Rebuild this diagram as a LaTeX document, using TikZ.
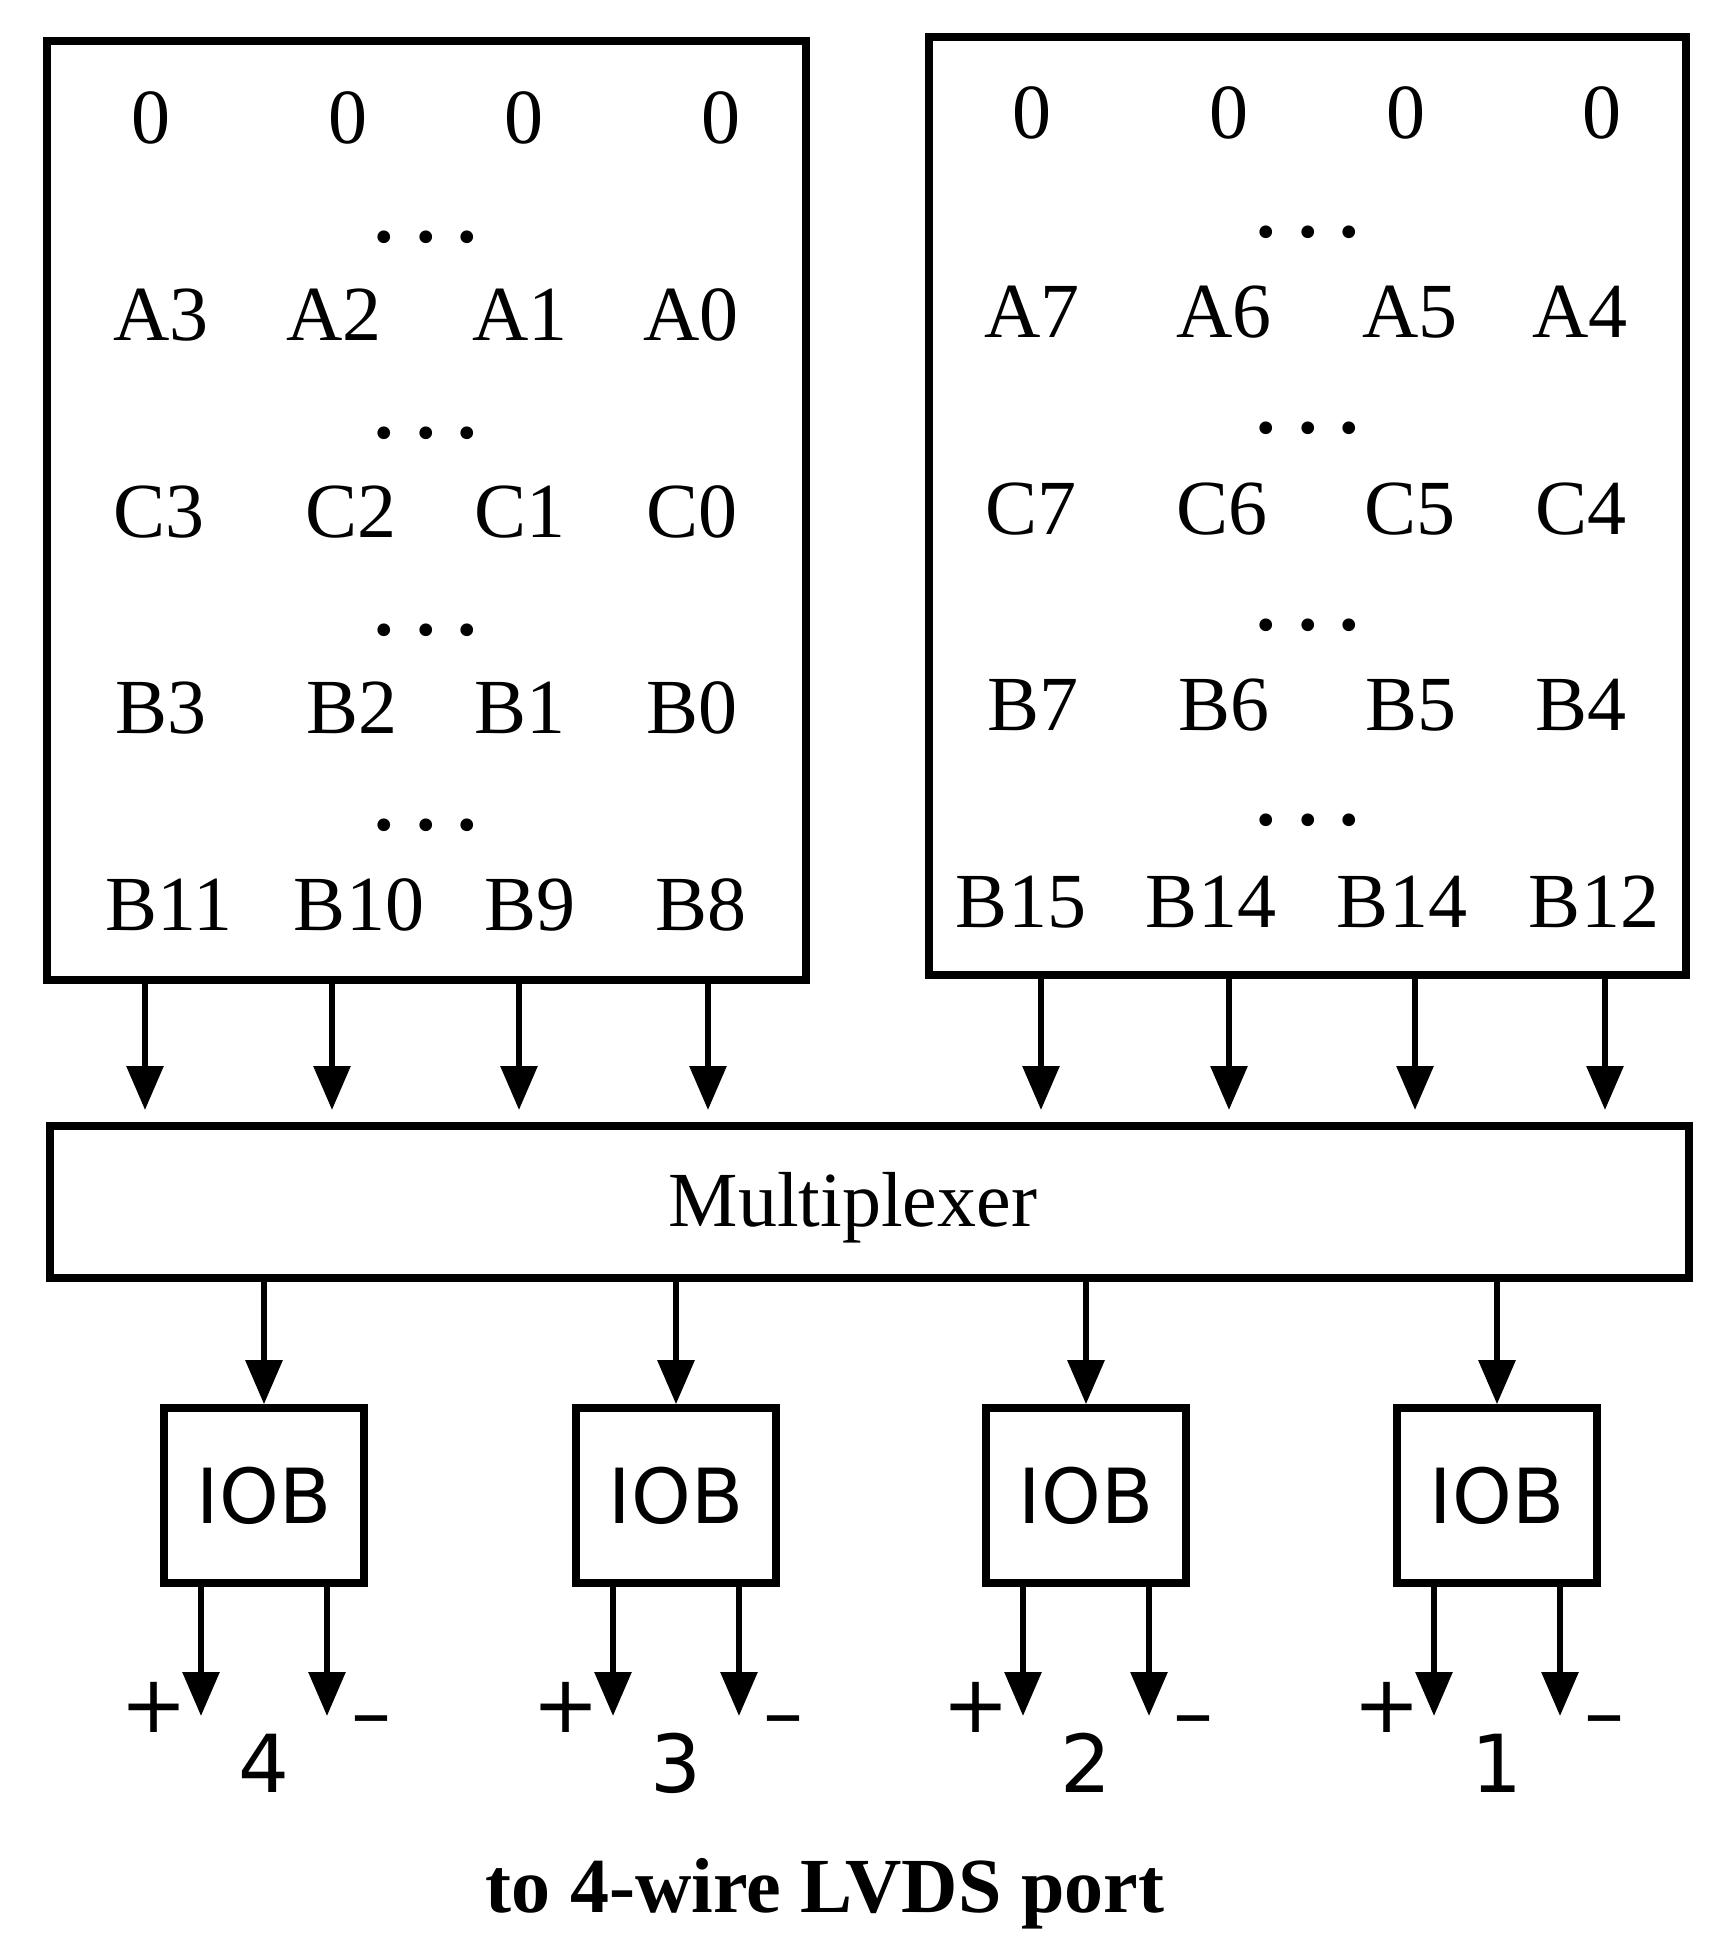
\documentclass[tikz,border=0pt]{standalone}
\usepackage{fontspec}
\setmainfont{Liberation Serif}
\newfontfamily\iobfont{DejaVu Sans}
\usetikzlibrary{arrows.meta}

\begin{document}
\begin{tikzpicture}[x=0.25pt,y=-0.25pt,
	box/.style={draw,line width=1.9pt,inner sep=0pt},
	bit/.style={anchor=base,inner sep=0pt,font=\fontsize{19.5}{23}\selectfont},
	iobbox/.style={box,minimum width=50pt,minimum height=43.75pt,font=\iobfont\fontsize{19}{23}\selectfont},
	pm/.style={anchor=base,inner sep=0pt,font=\iobfont\fontsize{20}{24}\selectfont},
	sig/.style={line width=1.5pt,-{Triangle[length=11pt,width=9pt]}}]

\useasboundingbox (0,0) rectangle (1721,1952);

\newcommand{\bitrow}[3]%
{	\foreach \lbl/\x [count=\i] in {#3}{
		\node[bit] (#1\i) at (\x,#2) {\lbl};
	}
}
\newcommand{\gap}{\textbf{.\hspace{0.28em}.\hspace{0.28em}.}}

% register words
\node[box,minimum width=189.75pt,minimum height=234.75pt] (regL) at (426.5,510.5) {};
\node[box,minimum width=189.25pt,minimum height=234.5pt] (regR) at (1307.5,506) {};

\bitrow{Lz}{143}{0/151,0/348,0/524,0/721}
\bitrow{LA}{340}{A3/161,A2/334,A1/520,A0/691}
\bitrow{LC}{537}{C3/159,C2/351,C1/520,C0/692}
\bitrow{LB}{733}{B3/161,B2/352,B1/520,B0/692}
\bitrow{LD}{930}{B11/169,B10/359,B9/530,B8/701}

\bitrow{Rz}{138}{0/1032,0/1229,0/1406,0/1602}
\bitrow{RA}{337}{A7/1032,A6/1224,A5/1410,A4/1580}
\bitrow{RC}{534}{C7/1031,C6/1222,C5/1410,C4/1581}
\bitrow{RB}{730}{B7/1033,B6/1224,B5/1411,B4/1581}
\bitrow{RD}{927}{B15/1021,B14/1211,B14/1402,B12/1594}

\foreach \y [count=\i] in {242,438,635,830}{
	\node[bit] (Ldots\i) at (426,\y) {\gap};
	\node[bit] (Rdots\i) at (1308,\y-5) {\gap};
}

% multiplexer
\node[box,minimum width=409.75pt,minimum height=38pt] (mux) at (869.5,1202) {};
\node[bit] (muxlabel) at (853,1226) {Multiplexer};

\foreach \x [count=\i] in {145,332,519,708}{
	\coordinate (inL\i) at (\x,1110);
	\draw[sig] (regL.south -| inL\i) -- (inL\i);
}
\foreach \x [count=\i] in {1041,1229,1415,1605}{
	\coordinate (inR\i) at (\x,1110);
	\draw[sig] (regR.south -| inR\i) -- (inR\i);
}

% output blocks
\foreach \n/\x in {4/264,3/676,2/1086,1/1497}{
	\node[iobbox] (iob\n) at (\x,1495.5) {IOB};
	\draw[sig] (mux.south -| iob\n) -- (iob\n.north);
	\coordinate (pos\n) at (\x-63,1716);
	\coordinate (neg\n) at (\x+63,1716);
	\draw[sig] (iob\n.south -| pos\n) -- (pos\n);
	\draw[sig] (iob\n.south -| neg\n) -- (neg\n);
	\node[pm] (plus\n) at (\x-110,1732) {+};
	\node[pm] (minus\n) at (\x+107,1740) {–};
	\node[pm] (wire\n) at (\x,1792) {\n};
}

\node[bit,font=\bfseries\fontsize{19.5}{23}\selectfont] (caption) at (825,1912) {to 4-wire LVDS port};

\end{tikzpicture}
\end{document}
